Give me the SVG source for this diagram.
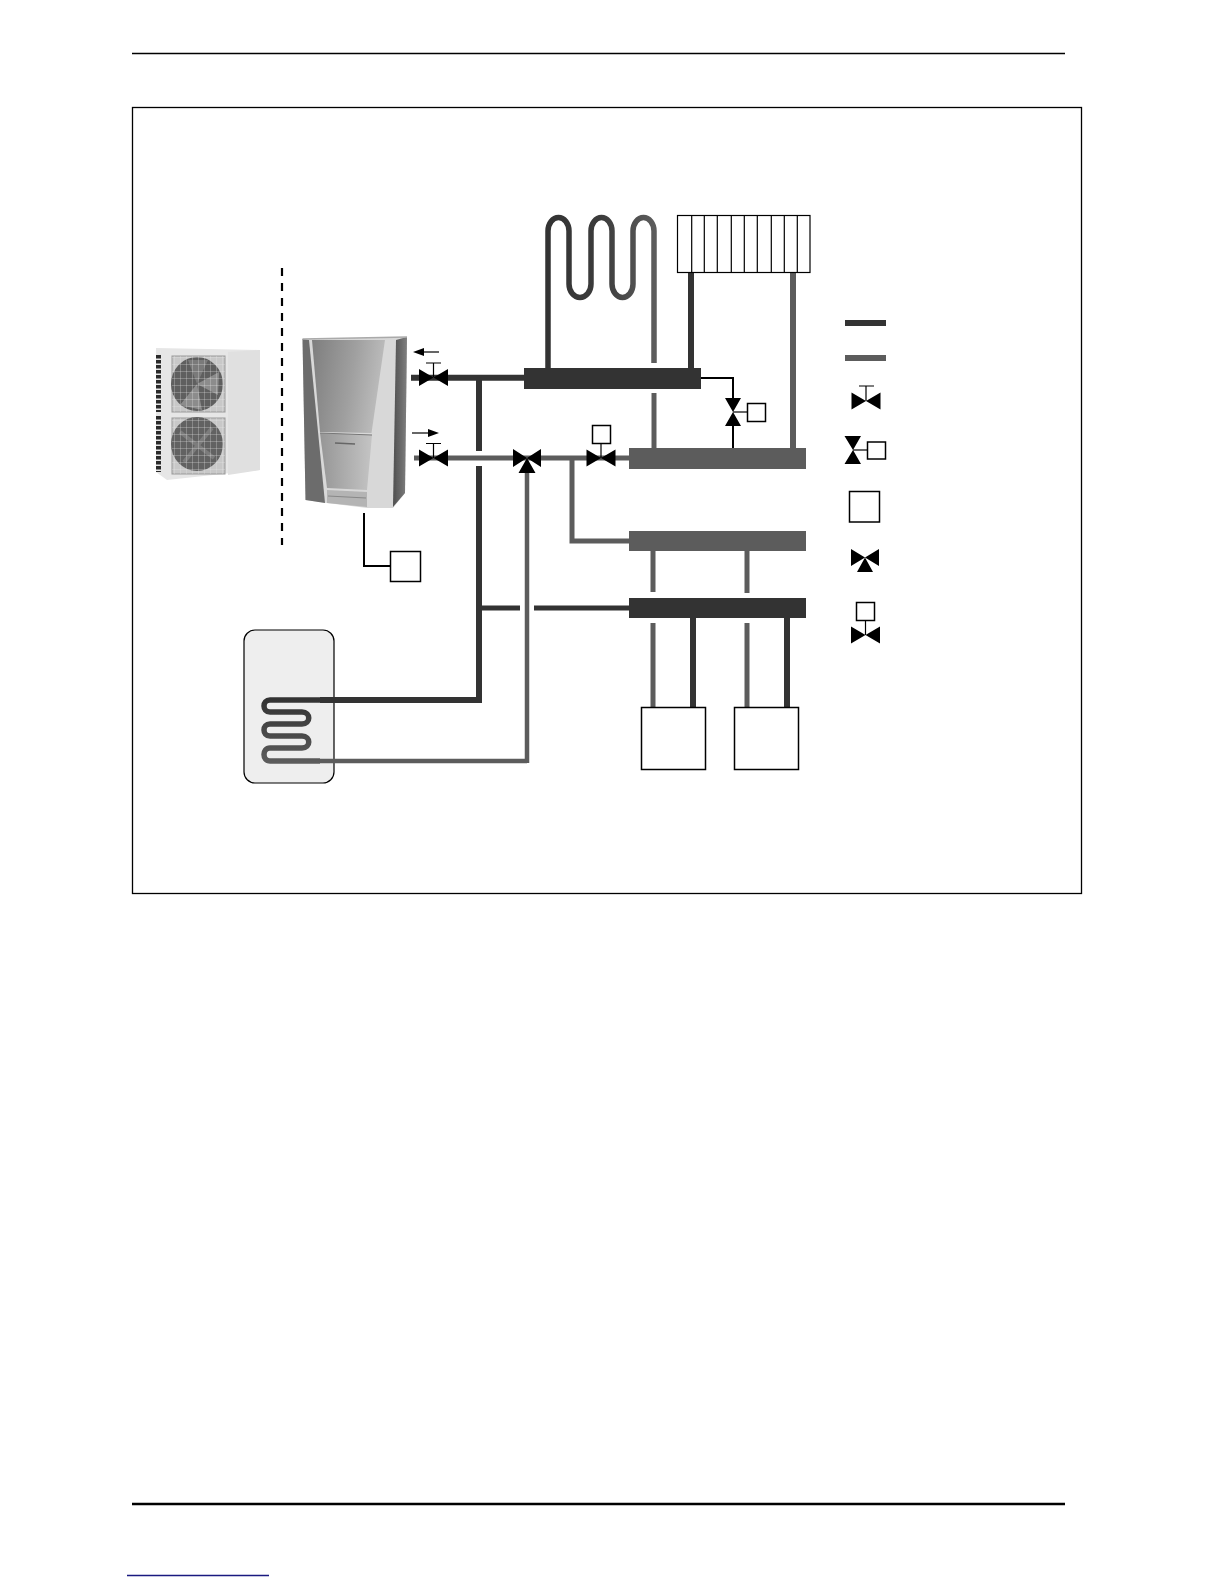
<svg xmlns="http://www.w3.org/2000/svg" width="1224" height="1584" viewBox="0 0 1224 1584">
<style>
.d{stroke:#333;fill:none;stroke-width:6}
.g{stroke:#5c5c5c;fill:none;stroke-width:5}
.t{stroke:#000;fill:none;stroke-width:2}
.b{fill:#fff;stroke:#000;stroke-width:1.5}
.v{fill:#000}
.s{stroke:#000;stroke-width:1.2;fill:none}
.hd{fill:#333}
.hg{fill:#5c5c5c}
</style>
<defs>
<linearGradient id="coil1" gradientUnits="userSpaceOnUse" x1="548" y1="0" x2="654" y2="0"><stop offset="0" stop-color="#333"/><stop offset="0.5" stop-color="#3c3c3c"/><stop offset="1" stop-color="#5c5c5c"/></linearGradient>
<linearGradient id="coil2" gradientUnits="userSpaceOnUse" x1="0" y1="700" x2="0" y2="762"><stop offset="0" stop-color="#333"/><stop offset="1" stop-color="#5c5c5c"/></linearGradient>
<linearGradient id="uc" x1="0" y1="0" x2="1" y2="0.2"><stop offset="0" stop-color="#7e7e7e"/><stop offset="0.6" stop-color="#a0a0a0"/><stop offset="1" stop-color="#bcbcbc"/></linearGradient>
<linearGradient id="ul" x1="0" y1="0" x2="1" y2="0"><stop offset="0" stop-color="#969696"/><stop offset="1" stop-color="#c4c4c4"/></linearGradient>
<linearGradient id="us" x1="0" y1="0" x2="1" y2="0"><stop offset="0" stop-color="#4e4e4e"/><stop offset="1" stop-color="#808080"/></linearGradient>
<pattern id="gr" patternUnits="userSpaceOnUse" width="6" height="7"><path d="M0 0V7M0 0H6" stroke="#e8e8e8" stroke-width="0.800" fill="none" opacity="0.700"/></pattern>
<filter id="soft" x="-5%" y="-5%" width="110%" height="110%"><feGaussianBlur stdDeviation="0.700"/></filter>
<g id="vh"><path class="v" d="M-14.500 -8.500V8.500L0 0ZM14.500 -8.500V8.500L0 0Z"/></g>
</defs>
<rect width="1224" height="1584" fill="#fff"/>
<g id="page">
<path d="M132 53.500H1065" stroke="#000" stroke-width="1.300"/>
<rect x="132.500" y="107.500" width="949" height="786" fill="none" stroke="#000" stroke-width="1.300"/>
<path d="M132 1504H1065" stroke="#000" stroke-width="2.300"/>
<path d="M127 1575.500H269" stroke="#1a1a80" stroke-width="1.300"/>
</g>
<g id="boundary"><path d="M282 268V545" stroke="#000" stroke-width="2.200" stroke-dasharray="8 7" fill="none"/></g>
<g id="outdoor-unit" filter="url(#soft)">
<path d="M156 348L260 350V470L167 480L156 472Z" fill="#e6e6e6"/>
<path d="M228 352L260 350V470L228 475Z" fill="#e0e0e0"/>
<rect x="172" y="356" width="53" height="56" fill="#c8c8c8" stroke="#999"/>
<rect x="172" y="418" width="53" height="56" fill="#c8c8c8" stroke="#999"/>
<ellipse cx="197" cy="384" rx="26" ry="27" fill="#5e5e5e"/>
<ellipse cx="197" cy="444" rx="26" ry="27" fill="#626262"/>
<path d="M197 384L219 372L218 395Z M197 384L180 405L202 410Z" fill="#8c8c8c"/>
<path d="M197 384L188 360L208 360Z" fill="#7a7a7a"/>
<path d="M180 432L214 458M212 428L184 462" stroke="#7c7c7c" stroke-width="4" fill="none"/>
<rect x="172" y="356" width="53" height="56" fill="url(#gr)"/>
<rect x="172" y="418" width="53" height="56" fill="url(#gr)"/>
<path d="M158.500 355V412M158.500 416V472" stroke="#2a2a2a" stroke-width="5" stroke-dasharray="3.500 1.500" fill="none"/>
</g>
<g id="indoor-unit" filter="url(#soft)">
<path d="M302.500 339L407 337L405 493L393 508L367 508L327 503L305.500 500Z" fill="#d8d8d8"/>
<path d="M302.500 339L309 340L325 503L305.500 500Z" fill="#6c6c6c"/>
<path d="M312 340L385 340L371.500 433L320 432Z" fill="url(#uc)"/>
<path d="M396 340L407 337L405 493L393 507Z" fill="url(#us)"/>
<path d="M320 433L372 435L367 490L327 488Z" fill="url(#ul)"/>
<path d="M327 490L367 492L367 507L327 503Z" fill="#b4b4b4"/>
<path d="M335 443L355 444" stroke="#666" stroke-width="1.500"/>
<path d="M328 496L366 498" stroke="#888" stroke-width="1"/>
<path d="M320 433L372 435" stroke="#777" stroke-width="1"/>
<path d="M302.500 339L407 337" stroke="#aaa" stroke-width="1.500"/>
</g>
<g id="tank"><rect x="244" y="630" width="90" height="153" rx="11" fill="#eee" stroke="#000" stroke-width="1.200"/></g>
<g id="connectors">
<path class="d" d="M411 377.700H524"/>
<path class="d" d="M479 377.700V451M479 466V700H320"/>
<path class="g" d="M479 608H520M534 608H629" style="stroke:#333"/>
<path class="g" d="M414 458H629"/>
<path class="g" d="M527 473V763M527 761H320" style="stroke-width:4.500"/>
<path class="g" d="M572 458V541H629"/>
<path fill="none" stroke="url(#coil1)" stroke-width="5.500" d="M548 368V231A10.500 13.500 0 0 1 569 231V284A11 13.500 0 0 0 591 284V231A10.500 13.500 0 0 1 612 231V284A10.500 13.500 0 0 0 633 284V231A10.500 13.500 0 0 1 654 231V363"/>
<path class="g" d="M654 393V448"/>
<path class="d" d="M691 272V368"/>
<path class="g" d="M793 272V448" style="stroke-width:6"/>
<path class="t" d="M701 378H733V398M733 426V448"/>
<path class="g" d="M653 551V592M653 623V707M747 551V593M747 623V707"/>
<path class="d" d="M693 618V707M787 618V707"/>
<path class="t" d="M364 513V566H390"/>
<path fill="none" stroke="url(#coil2)" stroke-width="5.500" d="M320 700H270C262 700 262 712 270 712H302C311 712 311 724 302 724H270C262 724 262 736 270 736H302C311 736 311 748 302 748H270C262 748 262 761 270 761H320"/>
</g>
<g id="valve-return"><use href="#vh" x="433.500" y="377.500"/><path class="s" d="M433.500 377V363M426 363H441"/>
<path class="s" d="M439 352H420"/><path class="v" d="M413 352L424 348V356Z"/></g>
<g id="valve-flow"><use href="#vh" x="433.500" y="458"/><path class="s" d="M433.500 458V443.500M426 443.500H441"/>
<path class="s" d="M412 433H430"/><path class="v" d="M439 433L428 429V437Z"/></g>
<g id="valve-3way"><path class="v" d="M513 449V467L527 458ZM541 449V467L527 458ZM527 458L518.500 473H535.500Z"/></g>
<g id="valve-motor"><use href="#vh" x="601" y="458"/><path class="s" d="M601 458V444"/><rect class="b" x="592.500" y="425.500" width="18" height="18"/></g>
<g id="valve-vertical"><path class="v" d="M725 398H741L733 412ZM725 426H741L733 412Z"/><path class="s" d="M733 412H747"/><rect class="b" x="747.500" y="403.500" width="18" height="18"/></g>
<g id="header-1"><rect class="hd" x="524" y="368" width="177" height="21"/></g>
<g id="header-2"><rect class="hg" x="629" y="448" width="177" height="21"/></g>
<g id="header-3"><rect class="hg" x="629" y="531" width="177" height="20"/></g>
<g id="header-4"><rect class="hd" x="629" y="598" width="177" height="20"/></g>
<g id="radiator"><rect class="s" x="677.500" y="215.500" width="132.500" height="57" style="fill:#fff"/><path class="s" d="M691.700 215V272M704.300 215V272M717.300 215V272M731.300 215V272M744.300 215V272M757.300 215V272M771.300 215V272M784.300 215V272M797.300 215V272"/></g>
<g id="controller"><rect class="b" x="390.500" y="551.500" width="30" height="30"/></g>
<g id="unit-1"><rect class="b" x="641.500" y="707.500" width="64" height="62"/></g>
<g id="unit-2"><rect class="b" x="734.500" y="707.500" width="64" height="62"/></g>
<g id="legend">
<rect class="hd" x="845" y="320" width="41" height="6"/>
<rect class="hg" x="845" y="355" width="41" height="6"/>
<g><use href="#vh" x="866" y="401"/><path class="s" d="M866 401V386M859 386H874"/></g>
<g><path class="v" d="M844.500 436H861L853 450ZM844.500 464H861L853 450Z"/><path class="s" d="M853 450H867"/><rect class="b" x="867.500" y="442" width="18" height="17"/></g>
<rect class="b" x="849.500" y="491.500" width="30" height="30.500"/>
<path class="v" d="M851 549V566L865 557.500ZM879 549V566L865 557.500ZM865 557.500L857 572H873Z"/>
<g><use href="#vh" x="865.500" y="635"/><path class="s" d="M865.500 635V620"/><rect class="b" x="856.500" y="602.500" width="18" height="18"/></g>
</g>
</svg>
